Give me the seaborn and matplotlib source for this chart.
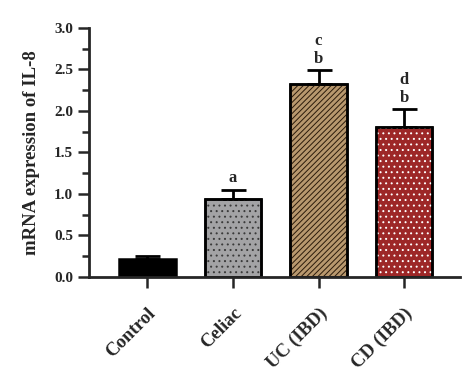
import numpy as np
import pandas as pd
import matplotlib
matplotlib.use("Agg")
import matplotlib.pyplot as plt
from matplotlib.ticker import MultipleLocator
import seaborn as sns

groups = ["Control", "Celiac", "UC (IBD)", "CD (IBD)"]
means = [0.22, 0.94, 2.33, 1.81]
errors = [0.03, 0.11, 0.16, 0.21]
letters = [["", ""], ["a", ""], ["b", "c"], ["b", "d"]]

face_colors = ["#000000", "#a3a3a5", "#c49a62", "#b01414"]
hatches = [None, "...", "//////", "..."]
hatch_colors = ["#3a3a3a", "#3a3a3a", "#2a1a0a", "#ffffff"]

sns.set_style("ticks")
plt.rcParams["font.family"] = ["Liberation Serif", "DejaVu Serif"]
plt.rcParams["font.weight"] = "bold"
plt.rcParams["hatch.linewidth"] = 0.7

df = pd.DataFrame({"group": groups, "value": means})

fig = plt.figure(figsize=(4.74, 3.83), dpi=100)
ax = fig.add_axes([0.188, 0.277, 0.782, 0.65])

sns.barplot(data=df, x="group", y="value", hue="group", palette=face_colors,
            width=0.66, edgecolor="#000000", linewidth=1.8, legend=False, ax=ax)

# hatch drawn in its own colour, outline on top
for i, p in enumerate(ax.patches):
    if hatches[i]:
        ax.bar(p.get_x() + p.get_width() / 2, p.get_height(), width=p.get_width(),
               facecolor="none", edgecolor=hatch_colors[i], hatch=hatches[i],
               linewidth=0, zorder=p.get_zorder() + 0.1)
        ax.bar(p.get_x() + p.get_width() / 2, p.get_height(), width=p.get_width(),
               facecolor="none", edgecolor="#000000", linewidth=1.8,
               zorder=p.get_zorder() + 0.2)

x = np.arange(len(groups))
ax.errorbar(x, means, yerr=[np.zeros(len(means)), errors], fmt="none",
            ecolor="#000000", elinewidth=2, capsize=9, capthick=2, zorder=1)

for i in range(len(groups)):
    top = means[i] + errors[i]
    low, high = letters[i]
    if low:
        ax.text(x[i], top + 0.04, low, ha="center", va="bottom",
                fontsize=12, fontweight="bold")
    if high:
        ax.text(x[i], top + 0.26, high, ha="center", va="bottom",
                fontsize=12, fontweight="bold")

ax.set_xlim(-0.68, 3.65)
ax.set_ylim(0, 3.0)
ax.yaxis.set_major_locator(MultipleLocator(0.5))
ax.yaxis.set_minor_locator(MultipleLocator(0.25))
ax.set_xlabel("")
ax.set_ylabel("mRNA expression of IL-8", fontsize=13.5, fontweight="bold", labelpad=10)
ax.set_xticks(x)
ax.set_xticklabels(groups, rotation=45, ha="right", rotation_mode="anchor",
                   fontsize=13.5, fontweight="bold")
for lab in ax.get_yticklabels():
    lab.set_fontweight("bold")
    lab.set_fontsize(11)
ax.tick_params(axis="x", length=8, width=1.8, pad=12)
ax.tick_params(axis="y", which="major", length=8, width=1.8)
ax.tick_params(axis="y", which="minor", length=5, width=1.8)
for s in ["left", "bottom"]:
    ax.spines[s].set_linewidth(2)
sns.despine(ax=ax)

fig.savefig("out.png", dpi=100)
